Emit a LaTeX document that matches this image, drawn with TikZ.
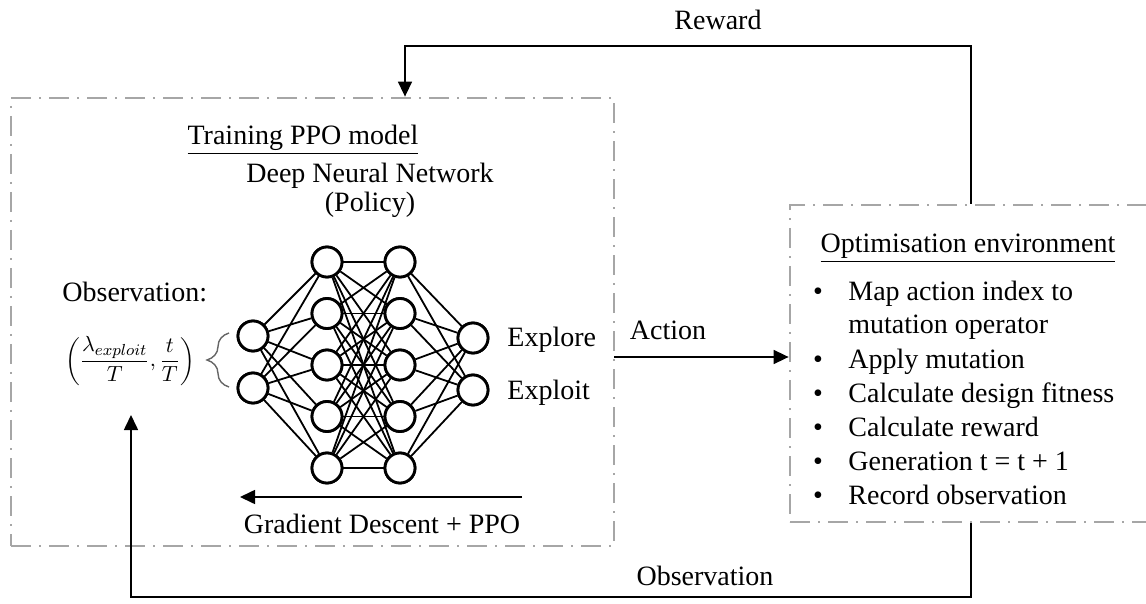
\documentclass[tikz,border=0pt]{standalone}
\usepackage{fontspec}
\setmainfont{Liberation Serif}
\usetikzlibrary{arrows.meta,decorations.pathreplacing,calc}
\begin{document}
\begin{tikzpicture}[x=0.5pt,y=-0.5pt,
  every node/.style={font=\fontsize{14}{17}\selectfont, inner sep=0pt},
  dashbox/.style={draw=black!35, line width=1.4pt,
    dash pattern=on 10pt off 4pt on 1pt off 4pt},
  neuron/.style={circle, draw, line width=1.4pt, fill=white, minimum size=15pt},
  wire/.style={line width=0.9pt},
  arr/.style={line width=0.8pt, -{Triangle[length=7.5pt,width=7pt]}},
  lbl/.style={anchor=base},
  item/.style={anchor=base west},
]
\useasboundingbox (0,0) rectangle (1146,604);

% the two framed regions
\node[dashbox, minimum width=301.5pt, minimum height=224pt] (train) at (312.5,322) {};
\node[dashbox, minimum width=181pt, minimum height=158.5pt] (env) at (971,363.5) {};

% titles
\node[lbl] (traintitle) at (303,145) {\underline{Training PPO model}};
\node[lbl] (dnn) at (370,183) {Deep Neural Network};
\node[lbl] (policy) at (370,212) {(Policy)};
\node[lbl] (envtitle) at (968,253) {\underline{Optimisation environment}};

% observation input
\node[anchor=base west] (obstext) at (62,302) {Observation:};
\node (formula) at (130,361) {\fontsize{11}{13}\selectfont
  $\displaystyle\left(\frac{\lambda_{exploit}}{T},\frac{t}{T}\right)$};

% network layers
\foreach \i/\y in {1/336,2/388} \node[neuron] (in\i) at (253,\y) {};
\foreach \i/\y in {1/262,2/313.5,3/365,4/416.5,5/468} {
  \node[neuron] (ha\i) at (327,\y) {};
  \node[neuron] (hb\i) at (400,\y) {};
}
\foreach \i/\y in {1/338,2/390} \node[neuron] (out\i) at (473,\y) {};

\foreach \i in {1,2} \foreach \j in {1,...,5} \draw[wire] (in\i) -- (ha\j);
\foreach \i in {1,...,5} \foreach \j in {1,...,5} \draw[wire] (ha\i) -- (hb\j);
\foreach \i in {1,...,5} \foreach \j in {1,2} \draw[wire] (hb\i) -- (out\j);
% redraw neurons over the wires
\foreach \i in {1,2} \node[neuron] at (in\i) {};
\foreach \i in {1,...,5} { \node[neuron] at (ha\i) {}; \node[neuron] at (hb\i) {}; }
\foreach \i in {1,2} \node[neuron] at (out\i) {};

\node[anchor=base west] (explore) at (507,346) {Explore};
\node[anchor=base west] (exploit) at (507,399) {Exploit};

% brace grouping the inputs
\coordinate (brb) at (229,387);
\coordinate (brt) at (229,333);
\draw[black!60, line width=0.7pt, decorate, decoration={brace, amplitude=11pt}] (brb) -- (brt);

% gradient update arrow
\coordinate (gd1) at (522,497);
\coordinate (gd0) at (240,497);
\draw[arr] (gd1) -- (gd0);
\node[lbl] (gdtext) at (382,533) {Gradient Descent + PPO};

% environment steps
\foreach \t/\y in {{Map action index to}/300, {Apply mutation}/368,
  {Calculate design fitness}/402, {Calculate reward}/436,
  {Generation t = t + 1}/470, {Record observation}/504} {
  \node[anchor=base] at (818,\y) {•};
  \node[item] at (848,\y) {\t};
}
\node[item] (mapcont) at (848,334) {mutation operator};

% action arrow
\coordinate (act0) at (614,357);
\draw[arr] (act0) -- (act0 -| env.west);
\node[lbl] (acttext) at (668,340) {Action};

% reward loop
\coordinate (rwL) at (405,46);
\draw[arr] (env.north) |- (rwL) -- (rwL |- train.north);
\node[lbl] (rwtext) at (718,30) {Reward};

% observation loop
\coordinate (obB) at (131,597);
\coordinate (obT) at (131,415);
\draw[arr] (env.south) |- (obB) -- (obT);
\node[lbl] (obtext2) at (705,585) {Observation};
\end{tikzpicture}
\end{document}
